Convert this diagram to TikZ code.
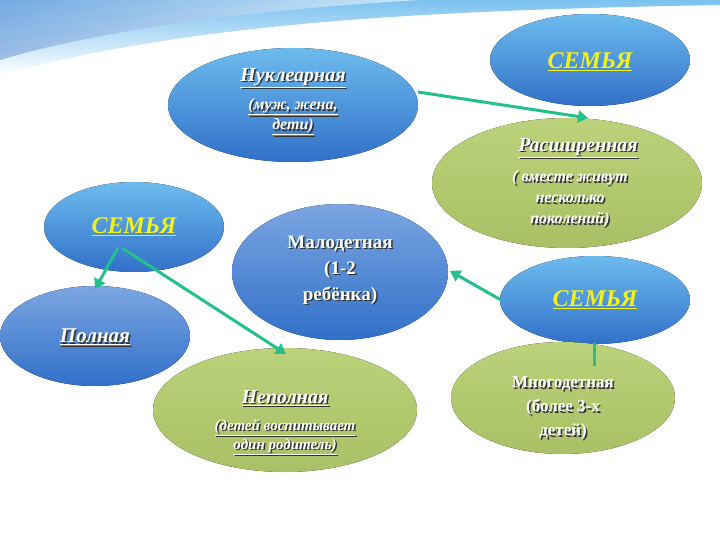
\documentclass[tikz,border=0pt]{standalone}
\usepackage{fontspec}
\setmainfont{Liberation Serif}
\usetikzlibrary{arrows.meta}
\definecolor{bluA}{HTML}{6DBBEE}
\definecolor{bluB}{HTML}{3170C8}
\definecolor{bluC}{HTML}{5A8FDA}
\definecolor{grnA}{HTML}{BCD27A}
\definecolor{grnB}{HTML}{93B040}
\definecolor{arr}{HTML}{22C08A}
\definecolor{ylw}{HTML}{F2F21A}
\tikzset{
 conn/.style={arr,line width=3pt,-{Triangle[length=10pt,width=12pt]}},
 tx/.style={align=center,text=white,inner sep=0pt},
 sem/.style={tx,text=ylw,font=\bfseries\itshape\fontsize{24}{26}\selectfont},
}
\newcommand{\shd}[4]{% name, pos, font, text
 \node[tx,text=black!80,xshift=1.5pt,yshift=-1.5pt,font=#3] at (#2) {#4};
 \node[tx,font=#3] (#1) at (#2) {#4};}
\begin{document}
\begin{tikzpicture}[x=1pt,y=-1pt]
\useasboundingbox (0,0) rectangle (720,540);
\fill[white] (0,0) rectangle (720,540);
% background swoosh
\shade[top color=bluA!90,bottom color=white,draw=none]
 (0,0) -- (720,0) -- (720,5) .. controls (450,10) and (200,20) .. (0,75) -- cycle;
\shade[left color=bluB!70,right color=white,draw=none,opacity=0.6]
 (0,0) -- (420,0) .. controls (250,10) and (100,30) .. (0,60) -- cycle;
% ellipses
\fill[top color=bluA,bottom color=bluB] (293,105) ellipse[x radius=125,y radius=57];
\fill[top color=bluA,bottom color=bluB] (590,60) ellipse[x radius=100,y radius=46];
\fill[top color=grnA,bottom color=grnB!80] (567,183) ellipse[x radius=135,y radius=65];
\fill[top color=bluA,bottom color=bluB] (134,227) ellipse[x radius=90,y radius=45];
\fill[top color=bluC!80,bottom color=bluB] (340,272) ellipse[x radius=108,y radius=68];
\fill[top color=bluA,bottom color=bluB] (595,300) ellipse[x radius=95,y radius=44];
\fill[top color=bluC!80,bottom color=bluB] (95,336) ellipse[x radius=95,y radius=50];
\fill[top color=grnA,bottom color=grnB!80] (285,410) ellipse[x radius=132,y radius=62];
\fill[top color=grnA,bottom color=grnB!80] (563,398) ellipse[x radius=112,y radius=56];
% texts
\shd{nuk}{293,78}{\bfseries\itshape\fontsize{20}{22}\selectfont}{\underline{Нуклеарная}}
\shd{nuks}{293,117}{\bfseries\itshape\fontsize{16}{20}\selectfont}{\underline{(муж, жена,}\\\underline{дети)}}
\node[sem] (s1) at (590,62) {\underline{СЕМЬЯ}};
\shd{ras}{578,148}{\bfseries\itshape\fontsize{20}{22}\selectfont}{\underline{Расширенная}}
\shd{rass}{570,199}{\bfseries\itshape\fontsize{16}{21}\selectfont}{( вместе живут\\несколько\\поколений)}
\node[sem] (s2) at (134,227) {\underline{СЕМЬЯ}};
\node[sem] (s3) at (595,300) {\underline{СЕМЬЯ}};
\shd{mal}{340,270}{\bfseries\fontsize{19}{26}\selectfont}{Малодетная\\(1-2\\ребёнка)}
\shd{pol}{95,337}{\bfseries\itshape\fontsize{21}{22}\selectfont}{\underline{Полная}}
\shd{nep}{285,398}{\bfseries\itshape\fontsize{20}{22}\selectfont}{\underline{Неполная}}
\shd{neps}{285,437}{\bfseries\itshape\fontsize{15}{19}\selectfont}{\underline{(детей воспитывает}\\\underline{один родитель)}}
\shd{mng}{563,408}{\bfseries\fontsize{17}{24}\selectfont}{Многодетная\\(более 3-х\\детей)}
% connectors
\coordinate (a1) at (418,92); \coordinate (b1) at (588,118);
\coordinate (a2) at (118,248); \coordinate (b2) at (95,289);
\coordinate (a3) at (122,248); \coordinate (b3) at (286,354);
\coordinate (a4) at (501,300); \coordinate (b4) at (450,271);
\coordinate (a5) at (594,343); \coordinate (b5) at (594,366);
\draw[conn] (a1) -- (b1);
\draw[conn] (a2) -- (b2);
\draw[conn] (a3) -- (b3);
\draw[conn] (a4) -- (b4);
\draw[arr,line width=3pt] (a5) -- (b5);
\end{tikzpicture}
\end{document}
